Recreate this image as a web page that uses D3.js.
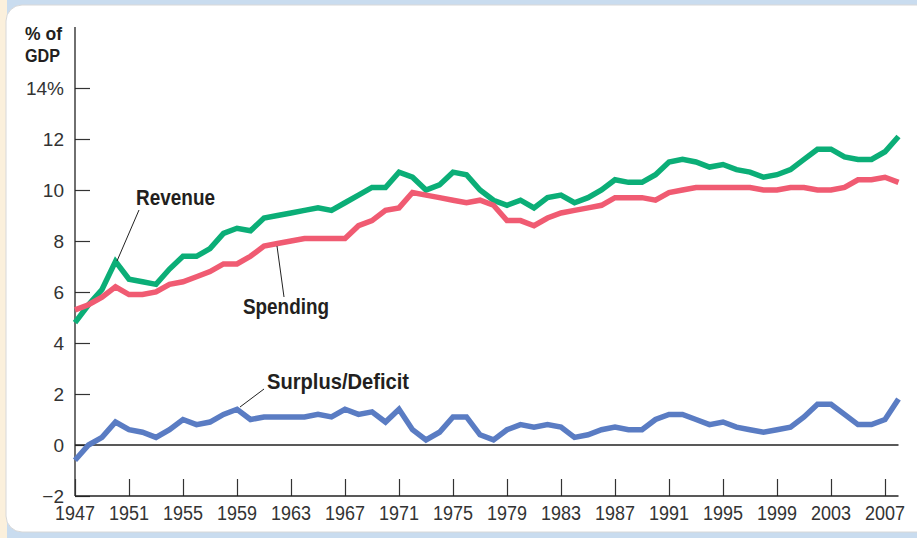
<!DOCTYPE html>
<html>
<head>
<meta charset="utf-8">
<script src="https://cdn.jsdelivr.net/npm/d3@7"></script>
<style>
  html, body { margin: 0; padding: 0; background: #c9dcef; }
  svg { display: block; }
</style>
</head>
<body>
<div id="chart"></div>
<script>
var w = 917,
    h = 538;

var years = d3.range(1947, 2009);

var revenue = [4.8, 5.5, 6.1, 7.2, 6.5, 6.4, 6.3, 6.9, 7.4, 7.4, 7.7, 8.3, 8.5, 8.4, 8.9,
  9.0, 9.1, 9.2, 9.3, 9.2, 9.5, 9.8, 10.1, 10.1, 10.7, 10.5, 10.0, 10.2, 10.7, 10.6,
  10.0, 9.6, 9.4, 9.6, 9.3, 9.7, 9.8, 9.5, 9.7, 10.0, 10.4, 10.3, 10.3, 10.6, 11.1,
  11.2, 11.1, 10.9, 11.0, 10.8, 10.7, 10.5, 10.6, 10.8, 11.2, 11.6, 11.6, 11.3, 11.2,
  11.2, 11.5, 12.1];

var spending = [5.3, 5.5, 5.8, 6.2, 5.9, 5.9, 6.0, 6.3, 6.4, 6.6, 6.8, 7.1, 7.1, 7.4, 7.8,
  7.9, 8.0, 8.1, 8.1, 8.1, 8.1, 8.6, 8.8, 9.2, 9.3, 9.9, 9.8, 9.7, 9.6, 9.5,
  9.6, 9.4, 8.8, 8.8, 8.6, 8.9, 9.1, 9.2, 9.3, 9.4, 9.7, 9.7, 9.7, 9.6, 9.9,
  10.0, 10.1, 10.1, 10.1, 10.1, 10.1, 10.0, 10.0, 10.1, 10.1, 10.0, 10.0, 10.1, 10.4,
  10.4, 10.5, 10.3];

var surplus = [-0.6, 0.0, 0.3, 0.9, 0.6, 0.5, 0.3, 0.6, 1.0, 0.8, 0.9, 1.2, 1.4, 1.0, 1.1,
  1.1, 1.1, 1.1, 1.2, 1.1, 1.4, 1.2, 1.3, 0.9, 1.4, 0.6, 0.2, 0.5, 1.1, 1.1,
  0.4, 0.2, 0.6, 0.8, 0.7, 0.8, 0.7, 0.3, 0.4, 0.6, 0.7, 0.6, 0.6, 1.0, 1.2,
  1.2, 1.0, 0.8, 0.9, 0.7, 0.6, 0.5, 0.6, 0.7, 1.1, 1.6, 1.6, 1.2, 0.8,
  0.8, 1.0, 1.8];

var yTicks = [-2, 0, 2, 4, 6, 8, 10, 12, 14];
var xTicks = d3.range(1947, 2008, 4);

var series = [
  { name: "Revenue", values: revenue, color: "#0bae77" },
  { name: "Spending", values: spending, color: "#f05b72" },
  { name: "Surplus/Deficit", values: surplus, color: "#5a7cc3" }
];

var x = d3.scaleLinear().domain([1947, 2007]).range([75, 885]);
var y = d3.scaleLinear().domain([-2, 14]).range([496, 88]);

var svg = d3.select("#chart").append("svg")
    .attr("width", w)
    .attr("height", h);

// frame
svg.append("rect").attr("x", 0).attr("y", 0).attr("width", 7).attr("height", h).attr("fill", "#fbf0dc");
svg.append("rect")
    .attr("x", 6).attr("y", 5)
    .attr("width", 940).attr("height", 527)
    .attr("rx", 16).attr("ry", 16)
    .attr("fill", "#fff")
    .attr("stroke", "#d8d8d8")
    .attr("stroke-width", 1);

var font = "'Liberation Sans', Arial, sans-serif";

// y axis
var yAxis = svg.append("g")
    .attr("transform", "translate(75,0)")
    .call(d3.axisRight(y).tickValues(yTicks).tickSize(15).tickFormat(""));
yAxis.select(".domain").remove();
yAxis.selectAll("line").attr("stroke", "#333").attr("stroke-width", 1.2);

svg.append("line")
    .attr("x1", 75).attr("x2", 75)
    .attr("y1", 27).attr("y2", y(-2))
    .attr("stroke", "#222").attr("stroke-width", 1.3);

svg.append("g").selectAll("text")
    .data(yTicks)
  .enter().append("text")
    .attr("x", 64)
    .attr("y", function(d) { return y(d) + 7; })
    .attr("text-anchor", "end")
    .attr("font-family", font)
    .attr("font-size", 19)
    .attr("fill", "#333")
    .text(function(d) { return d === 14 ? "14%" : d < 0 ? "\u2212" + Math.abs(d) : d; });

svg.append("text")
    .attr("x", 25).attr("y", 40)
    .attr("font-family", font).attr("font-weight", "bold").attr("font-size", 19)
    .attr("textLength", 37).attr("lengthAdjust", "spacingAndGlyphs")
    .attr("fill", "#231f20")
    .text("% of");
svg.append("text")
    .attr("x", 25).attr("y", 62)
    .attr("font-family", font).attr("font-weight", "bold").attr("font-size", 19)
    .attr("textLength", 35).attr("lengthAdjust", "spacingAndGlyphs")
    .attr("fill", "#231f20")
    .text("GDP");

// x axis
var xAxis = svg.append("g")
    .attr("transform", "translate(0," + y(-2) + ")")
    .call(d3.axisTop(x).tickValues(xTicks).tickSize(17).tickFormat(""));
xAxis.select(".domain").remove();
xAxis.selectAll("line").attr("stroke", "#333").attr("stroke-width", 1.2);

svg.append("line")
    .attr("x1", 75).attr("x2", x(2008))
    .attr("y1", y(-2)).attr("y2", y(-2))
    .attr("stroke", "#222").attr("stroke-width", 1.3);

svg.append("line")
    .attr("x1", 75).attr("x2", x(2008))
    .attr("y1", y(0)).attr("y2", y(0))
    .attr("stroke", "#222").attr("stroke-width", 1.3);

svg.append("g").selectAll("text")
    .data(xTicks)
  .enter().append("text")
    .attr("x", function(d) { return x(d); })
    .attr("y", 520)
    .attr("text-anchor", "middle")
    .attr("font-family", font)
    .attr("font-size", 20)
    .attr("textLength", 40).attr("lengthAdjust", "spacingAndGlyphs")
    .attr("fill", "#333")
    .text(function(d) { return d; });

// lines
var line = d3.line()
    .x(function(d, i) { return x(years[i]); })
    .y(function(d) { return y(d); });

svg.selectAll("path.series")
    .data(series)
  .enter().append("path")
    .attr("class", "series")
    .attr("fill", "none")
    .attr("stroke", function(d) { return d.color; })
    .attr("stroke-width", 5.5)
    .attr("stroke-linejoin", "miter")
    .attr("d", function(d) { return line(d.values); });

// labels with leader lines
var labels = [
  { text: "Revenue", tx: 136, ty: 205, len: 79, lx1: 139, ly1: 210, lx2: 117, ly2: 261 },
  { text: "Spending", tx: 243, ty: 314, len: 86, lx1: 284, ly1: 297, lx2: 277, ly2: 246 },
  { text: "Surplus/Deficit", tx: 267, ty: 389, len: 142, lx1: 264, ly1: 389, lx2: 240, ly2: 407 }
];

svg.selectAll("line.leader")
    .data(labels)
  .enter().append("line")
    .attr("class", "leader")
    .attr("x1", function(d) { return d.lx1; })
    .attr("y1", function(d) { return d.ly1; })
    .attr("x2", function(d) { return d.lx2; })
    .attr("y2", function(d) { return d.ly2; })
    .attr("stroke", "#222")
    .attr("stroke-width", 1);

svg.selectAll("text.label")
    .data(labels)
  .enter().append("text")
    .attr("class", "label")
    .attr("x", function(d) { return d.tx; })
    .attr("y", function(d) { return d.ty; })
    .attr("font-family", font)
    .attr("font-weight", "bold")
    .attr("font-size", 22)
    .attr("textLength", function(d) { return d.len; })
    .attr("lengthAdjust", "spacingAndGlyphs")
    .attr("fill", "#231f20")
    .text(function(d) { return d.text; });
</script>
</body>
</html>
